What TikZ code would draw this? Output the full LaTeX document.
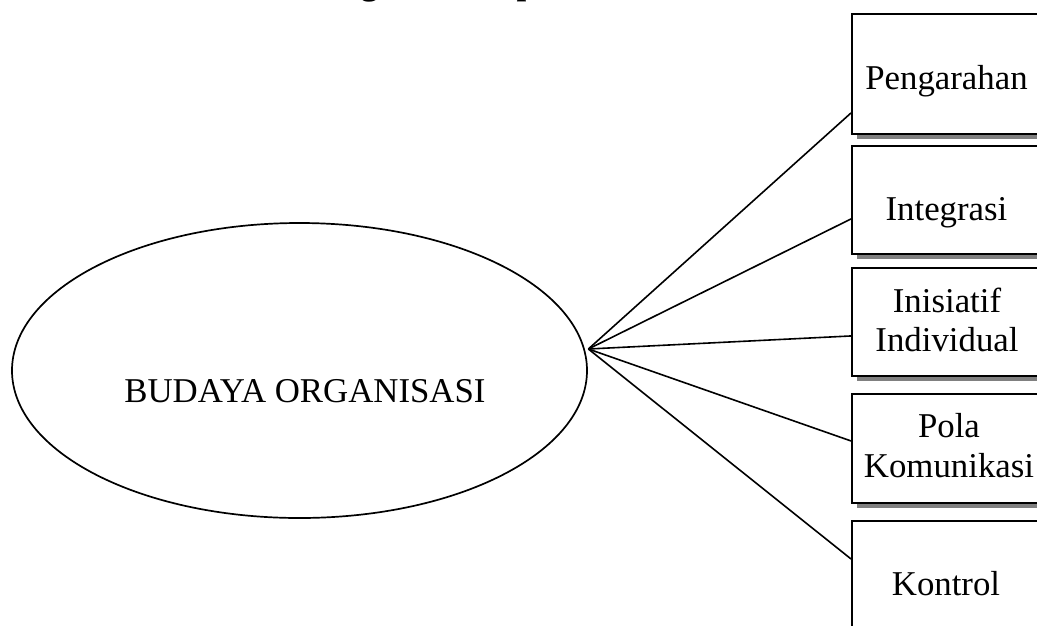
\documentclass[tikz,border=0pt]{standalone}
\usepackage{fontspec}
\setmainfont{Liberation Serif}
\usetikzlibrary{shadows,calc,shapes.geometric}
\begin{document}
\begin{tikzpicture}[x=1pt,y=-1pt,
  lbl/.style={font=\fontsize{34.8pt}{39pt}\selectfont, inner sep=0pt, anchor=base},
  box/.style={draw, line width=1.9pt, fill=white, minimum width=194pt, inner sep=0pt, anchor=north west,
    drop shadow={fill=black!50, opacity=1, shadow xshift=5.5pt, shadow yshift=-5.5pt}},
  conn/.style={line width=1.6pt}]
\useasboundingbox (0,0) rectangle (1037,625);
\fill[white] (0,0) rectangle (1037,625);
% title (cut off at top)
\node[inner sep=0pt, anchor=base west, font=\bfseries\fontsize{34.8pt}{39pt}\selectfont] (title) at (266,-6) {Kerangka Konseptual Penelitian};
% ellipse
\node[draw, ellipse, minimum width=575pt, minimum height=295pt, line width=1.7pt, inner sep=0pt] (o) at (299.5,370.5) {};
\node[lbl] (bo) at (305,402) {BUDAYA ORGANISASI};
\coordinate (hub) at ($(o.east)+(0.5,-21.5)$);
% boxes
\node[box, minimum height=120pt] (b1) at (851,13) {};
\node[box, minimum height=108pt] (b2) at (851,145) {};
\node[box, minimum height=108pt] (b3) at (851,267) {};
\node[box, minimum height=109pt] (b4) at (851,393) {};
\node[box, minimum height=120pt] (b5) at (851,520) {};
% labels
\node[lbl] (t1) at (946.5,89) {Pengarahan};
\node[lbl] (t2) at (946.5,220) {Integrasi};
\node[lbl] (t3a) at (947,312) {Inisiatif};
\node[lbl] (t3b) at (947,351) {Individual};
\node[lbl] (t4a) at (949,437) {Pola};
\node[lbl] (t4b) at (949,477) {Komunikasi};
\node[lbl] (t5) at (946,595) {Kontrol};
% connectors
\draw[conn] (hub) -- ($(b1.west)+(0,39)$);
\draw[conn] (hub) -- ($(b2.west)+(0,19)$);
\draw[conn] (hub) -- ($(b3.west)+(0,14)$);
\draw[conn] (hub) -- ($(b4.west)+(0,-7.5)$);
\draw[conn] (hub) -- ($(b5.west)+(0,-22)$);
\end{tikzpicture}
\end{document}
